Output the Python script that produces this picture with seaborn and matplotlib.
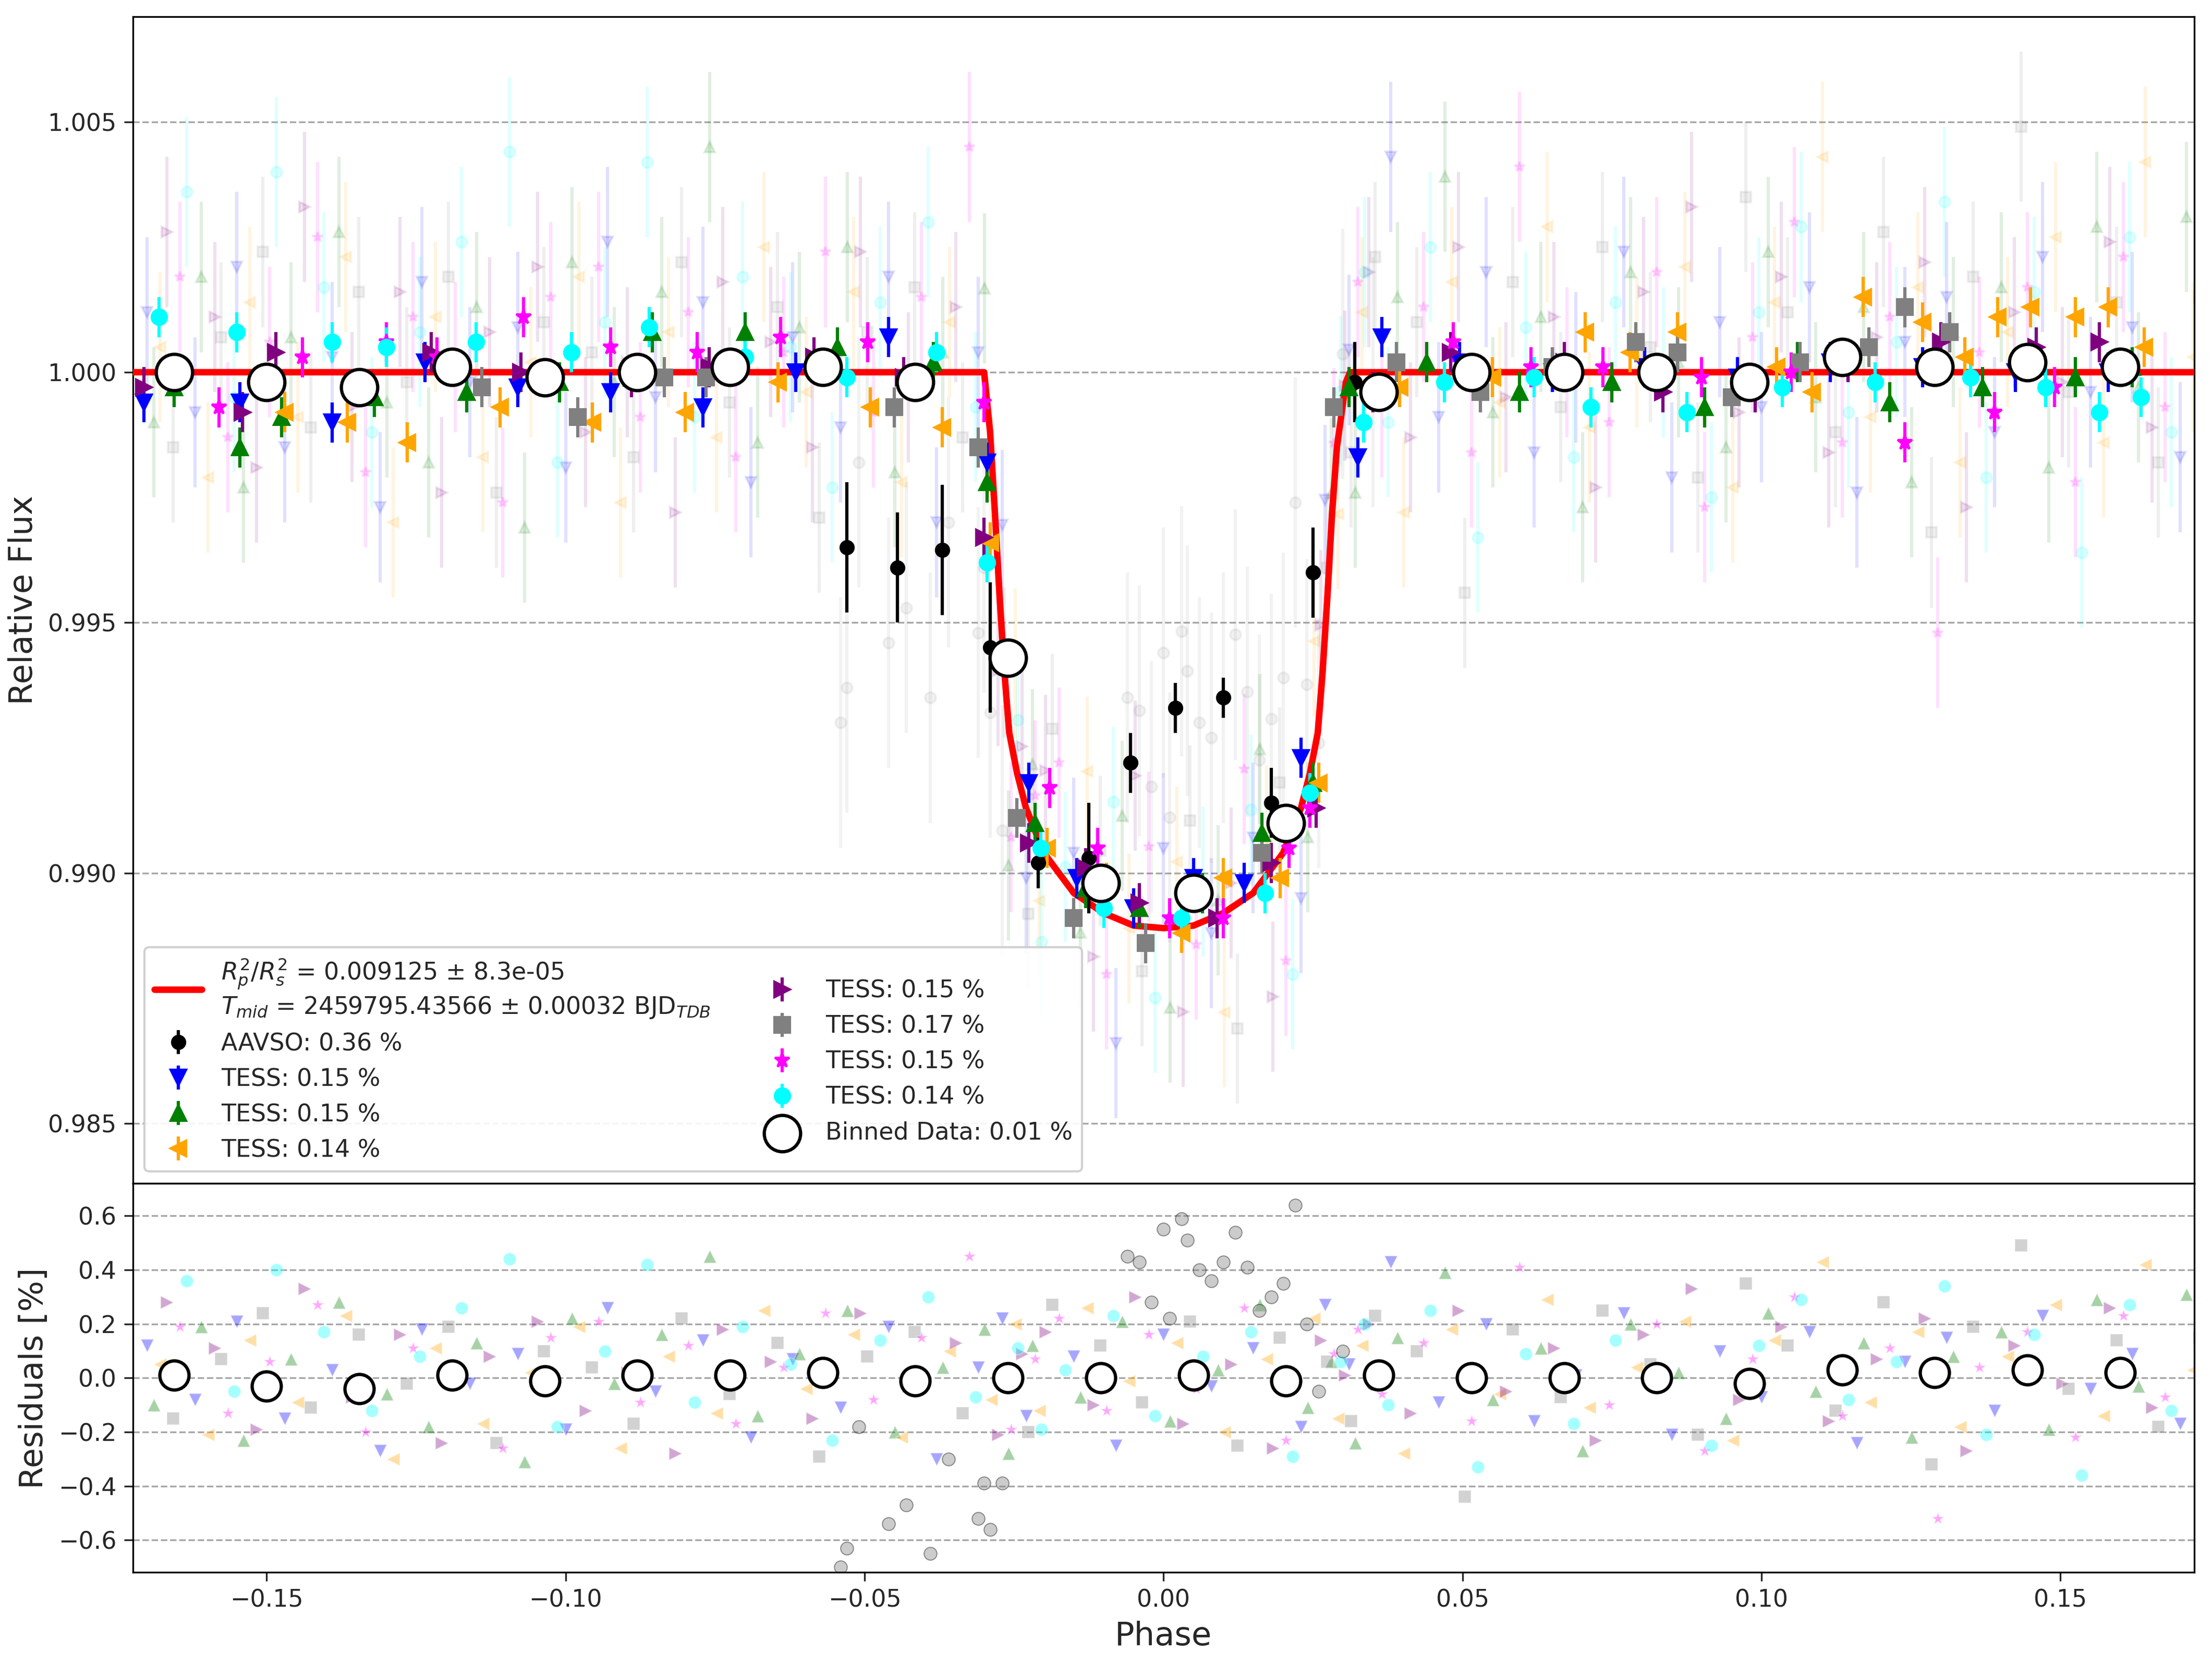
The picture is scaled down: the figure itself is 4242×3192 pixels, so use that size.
import numpy as np
import seaborn as sns
import matplotlib.pyplot as plt

# model light curve
model_phase = [-0.1724, -0.0300, -0.0290, -0.0282, -0.0274, -0.0266, -0.0258, -0.0245, -0.0230, -0.0200,
               -0.0150, -0.0100, -0.0050, 0.0000, 0.0050, 0.0100, 0.0150, 0.0200, 0.0230, 0.0245,
               0.0258, 0.0266, 0.0274, 0.0282, 0.0290, 0.0305, 0.0312, 0.1724]
model_flux = [1.0000, 1.0000, 0.9988, 0.9972, 0.9955, 0.9940, 0.9928, 0.9920, 0.9913, 0.9904,
              0.9896, 0.9892, 0.98895, 0.9889, 0.98895, 0.9892, 0.9896, 0.9904, 0.9913, 0.9920,
              0.9928, 0.9940, 0.9955, 0.9972, 0.9985, 0.9998, 1.0000, 1.0000]

# binned data
bin_phase = [-0.1655, -0.150, -0.1345, -0.119, -0.1035, -0.088, -0.0725, -0.057, -0.0415, -0.026, -0.0105,
             0.005, 0.0205, 0.036, 0.0515, 0.067, 0.0825, 0.098, 0.1135, 0.129, 0.1445, 0.160]
bin_flux = [1.0000, 0.9998, 0.9997, 1.0001, 0.9999, 1.0000, 1.0001, 1.0001, 0.9998, 0.9943, 0.9898,
            0.9896, 0.9910, 0.9996, 1.0000, 1.0000, 1.0000, 0.9998, 1.0003, 1.0001, 1.0002, 1.0001]
bin_resid = [0.01, -0.03, -0.04, 0.01, -0.01, 0.01, 0.01, 0.02, -0.01, 0.00, 0.00,
             0.01, -0.01, 0.01, 0.00, 0.00, 0.00, -0.02, 0.03, 0.02, 0.03, 0.02]

# AAVSO binned points
aavso_phase = [-0.053, -0.0445, -0.037, -0.029, -0.021, -0.0125, -0.0055, 0.002, 0.010, 0.018, 0.025, 0.032]
aavso_flux = [0.9965, 0.9961, 0.99645, 0.9945, 0.9902, 0.9903, 0.9922, 0.9933, 0.9935, 0.9914, 0.9960, 0.9998]
aavso_err = [0.0013, 0.0011, 0.0013, 0.0013, 0.0005, 0.0011, 0.0006, 0.0005, 0.0004, 0.0007, 0.0009, 0.0008]
# AAVSO raw residuals (%)
aavso_res_phase = [-0.054, -0.053, -0.051, -0.046, -0.043, -0.039, -0.036, -0.031, -0.030, -0.029, -0.027,
                   -0.006, -0.004, -0.002, 0.000, 0.001, 0.003, 0.004, 0.006, 0.008, 0.010, 0.012, 0.014,
                   0.016, 0.018, 0.020, 0.022, 0.024, 0.026, 0.030, 0.035]
aavso_res = [-0.70, -0.63, -0.18, -0.54, -0.47, -0.65, -0.30, -0.52, -0.39, -0.56, -0.39,
             0.45, 0.43, 0.28, 0.55, 0.22, 0.59, 0.51, 0.40, 0.36, 0.43, 0.54, 0.41,
             0.25, 0.30, 0.35, 0.64, 0.20, -0.05, 0.10, -0.02]

# TESS binned points per dataset
tess_names = ["blue", "green", "orange", "purple", "gray", "magenta", "cyan"]
tess_labels = ["TESS: 0.15 %", "TESS: 0.15 %", "TESS: 0.14 %", "TESS: 0.15 %", "TESS: 0.17 %",
               "TESS: 0.15 %", "TESS: 0.14 %"]
tess_colors = ["blue", "green", "orange", "purple", "gray", "magenta", "cyan"]
tess_markers = ["v", "^", "<", ">", "s", "*", "o"]
tess_phase = {
    "blue": [-0.1705, -0.1545, -0.139, -0.1235, -0.108, -0.0925, -0.077, -0.0615, -0.046, -0.0295, -0.0225,
             -0.0145, -0.0050, 0.0050, 0.0135, 0.0230, 0.0325, 0.0365, 0.0495, 0.0650, 0.0805, 0.0960,
             0.1115, 0.1270, 0.1425, 0.1580],
    "green": [-0.1655, -0.1545, -0.1475, -0.1320, -0.1165, -0.1010, -0.0855, -0.0700, -0.0545, -0.0385,
              -0.0295, -0.0215, -0.0130, -0.0040, 0.0065, 0.0165, 0.0250, 0.0310, 0.0440, 0.0595, 0.0750,
              0.0905, 0.1060, 0.1215, 0.1370, 0.1525, 0.1620],
    "orange": [-0.1470, -0.1365, -0.1265, -0.1110, -0.0955, -0.0800, -0.0645, -0.0490, -0.0370, -0.0290,
               -0.0195, -0.0095, 0.0030, 0.0100, 0.0195, 0.0260, 0.0395, 0.0550, 0.0705, 0.0780, 0.0860,
               0.1025, 0.1085, 0.1170, 0.1270, 0.1340, 0.1395, 0.1450, 0.1525, 0.1580, 0.1640],
    "purple": [-0.1705, -0.1540, -0.1485, -0.1225, -0.1075, -0.0890, -0.0760, -0.0585, -0.0435, -0.0300,
               -0.0225, -0.0130, -0.0040, 0.0090, 0.0180, 0.0255, 0.0350, 0.0480, 0.0670, 0.0835, 0.0990,
               0.1145, 0.1300, 0.1460, 0.1565],
    "gray": [-0.1140, -0.0980, -0.0835, -0.0765, -0.0450, -0.0310, -0.0245, -0.0150, -0.0030, 0.0165,
             0.0285, 0.0390, 0.0530, 0.0650, 0.0790, 0.0860, 0.0950, 0.1065, 0.1180, 0.1240, 0.1315],
    "magenta": [-0.1580, -0.1440, -0.1300, -0.1215, -0.1070, -0.0925, -0.0780, -0.0640, -0.0495, -0.0300,
                -0.0190, -0.0110, 0.0010, 0.0100, 0.0210, 0.0245, 0.0485, 0.0615, 0.0735, 0.0900, 0.1050,
                0.1240, 0.1390, 0.1490],
    "cyan": [-0.1680, -0.1550, -0.1390, -0.1300, -0.1150, -0.0990, -0.0860, -0.0700, -0.0530, -0.0380,
             -0.0295, -0.0205, -0.0100, 0.0030, 0.0170, 0.0245, 0.0335, 0.0470, 0.0620, 0.0715, 0.0875,
             0.1035, 0.1190, 0.1350, 0.1475, 0.1565, 0.1635],
}
tess_flux = {
    "blue": [0.9994, 0.9994, 0.9990, 1.0002, 0.9997, 0.9996, 0.9993, 1.0000, 1.0007, 0.9982, 0.9918,
             0.9899, 0.9893, 0.9899, 0.9898, 0.9923, 0.9983, 1.0007, 1.0002, 1.0000, 1.0001, 0.9999,
             1.0002, 1.0001, 1.0000, 1.0000],
    "green": [0.9997, 0.9985, 0.9991, 0.9995, 0.9996, 0.9998, 1.0008, 1.0008, 1.0005, 1.0002,
              0.9978, 0.9910, 0.9897, 0.9893, 0.9896, 0.9908, 0.9918, 0.9997, 1.0002, 0.9996, 0.9998,
              0.9993, 1.0002, 0.9994, 0.9997, 0.9999, 1.0001],
    "orange": [0.9992, 0.9990, 0.9986, 0.9993, 0.9990, 0.9992, 0.9998, 0.9993, 0.9989, 0.9966,
               0.9905, 0.9898, 0.9888, 0.9899, 0.9899, 0.9918, 0.9997, 0.9999, 1.0008, 1.0004, 1.0008,
               1.0001, 0.9996, 1.0015, 1.0010, 1.0003, 1.0011, 1.0013, 1.0011, 1.0013, 1.0005],
    "purple": [0.9997, 0.9992, 1.0004, 1.0004, 1.0000, 0.9999, 1.0001, 1.0003, 0.9999, 0.9967,
               0.9906, 0.9901, 0.9894, 0.9891, 0.9902, 0.9913, 0.9996, 1.0004, 1.0002, 0.9996, 0.9996,
               1.0002, 1.0006, 1.0005, 1.0006],
    "gray": [0.9997, 0.9991, 0.9999, 0.9999, 0.9993, 0.9985, 0.9911, 0.9891, 0.9886, 0.9904,
             0.9993, 1.0002, 0.9996, 1.0001, 1.0006, 1.0004, 0.9995, 1.0002, 1.0005, 1.0013, 1.0008],
    "magenta": [0.9993, 1.0003, 1.0006, 1.0003, 1.0011, 1.0005, 1.0004, 1.0007, 1.0006, 0.9994,
                0.9917, 0.9905, 0.9891, 0.9891, 0.9905, 0.9913, 1.0006, 1.0001, 1.0001, 0.9999, 1.0000,
                0.9986, 0.9992, 0.9997],
    "cyan": [1.0011, 1.0008, 1.0006, 1.0005, 1.0006, 1.0004, 1.0009, 1.0003, 0.9999, 1.0004,
             0.9962, 0.9905, 0.9893, 0.9891, 0.9896, 0.9916, 0.9990, 0.9998, 0.9999, 0.9993, 0.9992,
             0.9997, 0.9998, 0.9999, 0.9997, 0.9992, 0.9995],
}

# raw TESS points (faint): shared phase grid, residuals in % per dataset
raw_phase = [-0.170, -0.162, -0.155, -0.147, -0.139, -0.131, -0.124, -0.116, -0.108, -0.100, -0.093,
             -0.085, -0.077, -0.069, -0.062, -0.054, -0.046, -0.038, -0.031, -0.027, -0.023, -0.015,
             -0.008, 0.000, 0.008, 0.015, 0.023, 0.027, 0.031, 0.038, 0.046, 0.054, 0.062, 0.069,
             0.077, 0.085, 0.093, 0.100, 0.108, 0.116, 0.124, 0.131, 0.139, 0.147, 0.155, 0.162, 0.170]
raw_resid = {
    "blue": [0.12, -0.08, 0.21, -0.15, 0.03, -0.27, 0.18, -0.02, 0.09, -0.19, 0.26, -0.05, 0.14, -0.22, 0.07,
             -0.11, 0.19, -0.30, 0.04, 0.22, -0.14, 0.08, -0.25, 0.16, -0.03, 0.11, -0.18, 0.27, 0.05, 0.43,
             -0.09, 0.20, -0.16, 0.01, 0.24, -0.21, 0.10, -0.07, 0.17, -0.24, 0.06, 0.15, -0.12, 0.23, -0.04, 0.09, -0.17],
    "green": [-0.10, 0.19, -0.23, 0.07, 0.28, -0.06, -0.18, 0.13, -0.31, 0.22, -0.02, 0.16, 0.45, -0.14, 0.09,
              0.25, -0.20, 0.04, 0.18, -0.28, 0.12, -0.07, 0.21, -0.16, 0.03, 0.27, -0.11, 0.06, -0.24, 0.15,
              0.39, -0.08, 0.11, -0.27, 0.20, 0.02, -0.15, 0.24, -0.05, 0.13, -0.22, 0.08, 0.17, -0.19, 0.29, -0.03, 0.31],
    "orange": [0.05, -0.21, 0.14, -0.09, 0.23, -0.30, 0.11, -0.17, 0.02, 0.19, -0.26, 0.08, -0.13, 0.25, -0.04,
               0.16, -0.22, 0.10, -0.08, 0.20, -0.12, 0.26, -0.01, 0.13, -0.20, 0.07, 0.22, -0.15, 0.12, -0.28,
               0.18, -0.06, 0.29, -0.11, 0.04, 0.21, -0.23, 0.14, 0.43, -0.09, 0.17, -0.18, 0.08, 0.27, -0.14, 0.42, 0.03],
    "purple": [0.28, 0.11, -0.19, 0.33, -0.07, 0.16, -0.24, 0.08, 0.21, -0.12, 0.02, -0.28, 0.18, 0.06, -0.15,
               0.24, -0.03, 0.13, -0.21, 0.09, 0.17, -0.10, 0.30, -0.17, 0.05, -0.26, 0.14, 0.01, 0.20, -0.13,
               0.25, -0.05, 0.11, -0.23, 0.16, 0.33, -0.08, 0.19, -0.16, 0.07, 0.22, -0.27, 0.12, -0.02, 0.26, -0.11, 0.15],
    "gray": [-0.15, 0.07, 0.24, -0.11, 0.16, -0.02, 0.19, -0.24, 0.10, 0.04, -0.17, 0.22, -0.06, 0.13, -0.29,
             0.08, 0.17, -0.13, 0.02, -0.20, 0.27, 0.12, -0.09, 0.21, -0.25, 0.15, 0.06, -0.16, 0.23, 0.10,
             -0.44, 0.18, -0.07, 0.25, 0.05, -0.21, 0.35, 0.12, -0.12, 0.28, -0.32, 0.19, 0.49, -0.04, 0.14, -0.18, 0.09],
    "magenta": [0.19, -0.13, 0.06, 0.27, -0.20, 0.11, 0.03, -0.26, 0.15, 0.21, -0.09, 0.12, -0.17, 0.04, 0.24,
                -0.08, 0.15, 0.45, -0.19, 0.07, 0.22, -0.12, 0.16, -0.04, 0.26, -0.23, 0.09, 0.18, -0.06, 0.13,
                -0.16, 0.41, 0.02, -0.10, 0.20, -0.27, 0.07, 0.30, -0.14, 0.11, -0.52, 0.04, 0.17, -0.22, 0.23, -0.07, 0.19],
    "cyan": [0.36, -0.05, 0.40, 0.17, -0.12, 0.08, 0.26, 0.44, -0.18, 0.10, 0.42, -0.09, 0.19, 0.05, -0.23,
             0.14, 0.30, -0.07, 0.11, -0.19, 0.03, 0.23, -0.14, 0.08, 0.17, -0.29, 0.06, 0.20, -0.10, 0.25,
             -0.33, 0.09, -0.17, 0.14, 0.02, -0.25, 0.12, 0.29, -0.08, 0.06, 0.34, -0.21, 0.16, -0.36, 0.27, -0.12, 0.04],
}

sns.set_style("white")
fig, (ax, axr) = plt.subplots(2, 1, figsize=(14.14, 10.64), dpi=300, sharex=True,
                              gridspec_kw={"height_ratios": [3, 1], "hspace": 0})
fig.subplots_adjust(left=0.06, right=0.992, top=0.99, bottom=0.055)

mphase = np.array(model_phase)
mflux = np.array(model_flux)

# faint raw points
for i, name in enumerate(tess_names):
    ph = np.array(raw_phase) + 0.0011 * i
    rs = np.array(raw_resid[name])
    fl = np.interp(ph, mphase, mflux) + rs / 100
    ax.errorbar(ph, fl, yerr=0.0015, fmt=tess_markers[i], color=tess_colors[i], ms=5, alpha=0.12, zorder=1)
    sns.scatterplot(x=ph, y=rs, ax=axr, marker=tess_markers[i], color=tess_colors[i], s=35,
                    alpha=0.35, linewidth=0.5, zorder=1)
a_ph = np.array(aavso_res_phase)
sns.scatterplot(x=a_ph, y=aavso_res, ax=axr, marker="o", color="gray", edgecolor="black", s=35,
                alpha=0.4, zorder=2)
ax.errorbar(a_ph, np.interp(a_ph, mphase, mflux) + np.array(aavso_res) / 100, yerr=0.0025,
            fmt="o", color="gray", ms=5, alpha=0.1, zorder=1)

# model
sns.lineplot(x=model_phase, y=model_flux, ax=ax, color="red", lw=3, zorder=5, sort=False,
             label="$R^{2}_{p}/R^{2}_{s}$ = 0.009125 ± 8.3e-05\n$T_{mid}$ = 2459795.43566 ± 0.00032 BJD$_{TDB}$")

ax.errorbar(aavso_phase, aavso_flux, yerr=aavso_err, fmt="o", color="black", ms=6, zorder=6,
            label="AAVSO: 0.36 %")
for i, name in enumerate(tess_names):
    ax.errorbar(tess_phase[name], tess_flux[name], yerr=0.0004, fmt=tess_markers[i],
                color=tess_colors[i], ms=7, zorder=6, label=tess_labels[i])

ax.scatter(bin_phase, bin_flux, s=280, facecolor="white", edgecolor="black", lw=1.5, zorder=8,
           label="Binned Data: 0.01 %")
axr.scatter(bin_phase, bin_resid, s=180, facecolor="white", edgecolor="black", lw=1.5, zorder=8)

ax.set_ylim(0.9838, 1.0071)
ax.set_yticks([0.985, 0.990, 0.995, 1.000, 1.005])
ax.set_ylabel("Relative Flux", fontsize=15)
axr.set_xlim(-0.1724, 0.1724)
axr.set_ylim(-0.72, 0.72)
axr.set_yticks([-0.6, -0.4, -0.2, 0.0, 0.2, 0.4, 0.6])
axr.set_ylabel("Residuals [%]", fontsize=15)
axr.set_xlabel("Phase", fontsize=15)
for a in (ax, axr):
    a.grid(axis="y", ls="--", color="gray", alpha=0.7)
    a.tick_params(labelsize=11, direction="out", length=4, left=True, bottom=True)
    for s in a.spines.values():
        s.set_color("black")

handles, labels = ax.get_legend_handles_labels()
b = labels.index("Binned Data: 0.01 %")
order = [k for k in range(len(labels)) if k != b] + [b]
ax.legend([handles[k] for k in order], [labels[k] for k in order],
          loc="lower left", ncol=2, fontsize=11, framealpha=0.9)
fig.savefig("out.png")
